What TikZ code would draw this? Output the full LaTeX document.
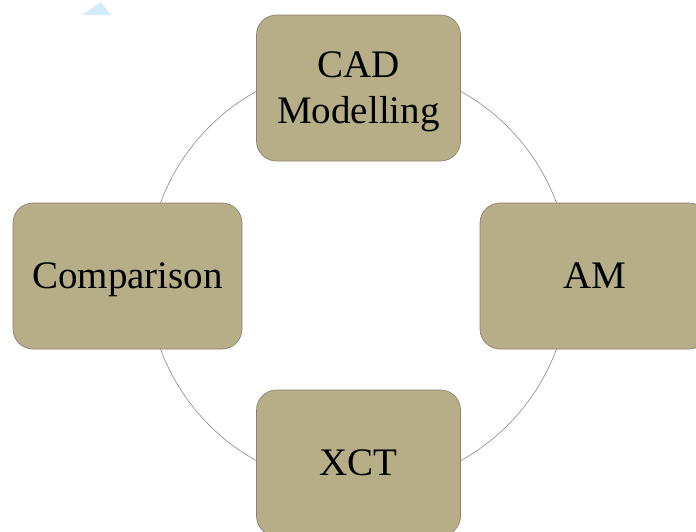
\documentclass[tikz,border=0pt]{standalone}
\usepackage{fontspec}
\setmainfont{Liberation Serif}
\definecolor{boxfill}{HTML}{B5AE87}
\definecolor{boxline}{HTML}{8C8273}
\definecolor{ringline}{HTML}{8A8A8A}
\definecolor{tri}{HTML}{D3ECFA}
\begin{document}
\begin{tikzpicture}[x=1pt,y=-1pt,
  stagebox/.style={draw=boxline, line width=0.7pt, fill=boxfill, rounded corners=20pt,
    minimum height=146pt, inner sep=0pt, align=center, text depth=0pt,
    font=\fontsize{39}{46}\selectfont, text=black},
  ring/.style={draw=ringline, line width=0.6pt}]
\useasboundingbox (0,0) rectangle (696,531);
\clip (0,0) rectangle (696,531);
\fill[tri] (82,15) -- (101,2) -- (111,15) -- cycle;
\coordinate (ctr) at (358.5,276);
\draw[ring] (ctr) circle[radius=211];
\node[stagebox, minimum width=204pt] (cad) at (358.5,88) {CAD\\Modelling};
\node[stagebox, minimum width=229pt] (am) at (594.5,276) {AM};
\node[stagebox, minimum width=229pt] (cmp) at (127.5,276) {Comparison};
\node[stagebox, minimum width=204pt] (xct) at (358.5,463) {XCT};
\end{tikzpicture}
\end{document}
